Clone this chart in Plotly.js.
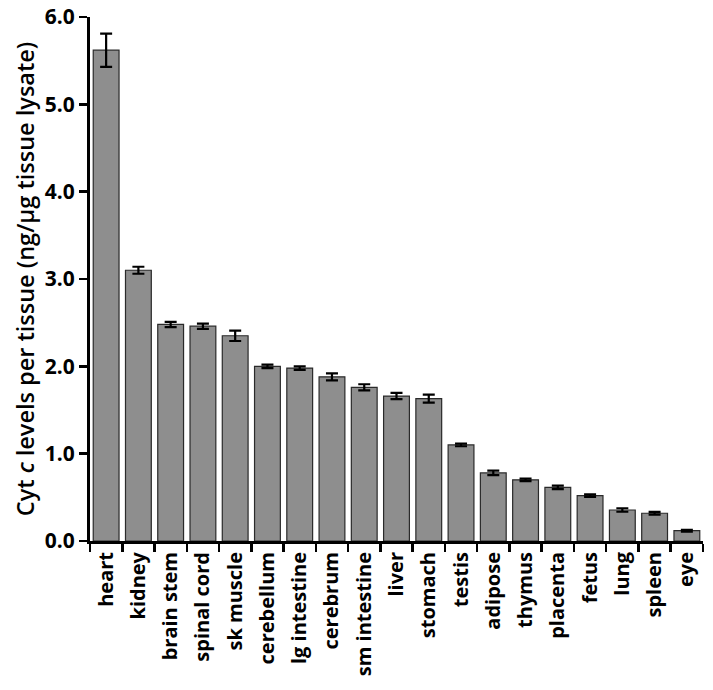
<!DOCTYPE html>
<html>
<head>
<meta charset="utf-8">
<script src="https://cdn.plot.ly/plotly-3.0.1.min.js"></script>
<style>html,body{margin:0;padding:0;background:#fff;}#chart{width:713px;height:690px;}</style>
</head>
<body>
<div id="chart"></div>
<script>
const tissues = ["heart","kidney","brain stem","spinal cord","sk muscle","cerebellum","lg intestine","cerebrum","sm intestine","liver","stomach","testis","adipose","thymus","placenta","fetus","lung","spleen","eye"];
const cytC = [5.62,3.10,2.48,2.46,2.35,2.00,1.98,1.88,1.76,1.66,1.63,1.10,0.78,0.70,0.615,0.52,0.355,0.318,0.118];
const sem = [0.19,0.04,0.03,0.03,0.06,0.02,0.02,0.04,0.035,0.035,0.045,0.015,0.025,0.015,0.02,0.015,0.02,0.015,0.01];
const yTicks = [0,1,2,3,4,5,6];

const font = "'Open Sans', 'Noto Sans', sans-serif";
const trace = {
  type: 'bar',
  x: tissues,
  y: cytC,
  marker: {color: '#8e8e8e', line: {color: '#2a2a2a', width: 1.2}},
  error_y: {type: 'data', array: sem, visible: true, color: '#000', thickness: 2.2, width: 6}
};
const layout = {
  width: 713, height: 690,
  margin: {l: 90, r: 10, t: 17, b: 149},
  paper_bgcolor: '#fff', plot_bgcolor: '#fff',
  bargap: 0.2,
  showlegend: false,
  xaxis: {
    type: 'category',
    tickangle: -90,
    ticks: 'outside', tickson: 'boundaries', ticklen: 8, tickwidth: 2.5, tickcolor: '#000',
    showline: true, linecolor: '#000', linewidth: 3,
    showgrid: false, zeroline: false,
    tickfont: {family: font, size: 20, color: '#000', weight: 'bold'}
  },
  yaxis: {
    range: [0, 6],
    tickvals: yTicks,
    tickformat: '.1f',
    ticks: 'outside', ticklen: 8, tickwidth: 2.5, tickcolor: '#000',
    showline: true, linecolor: '#000', linewidth: 3,
    showgrid: false, zeroline: false,
    tickfont: {family: font, size: 21, color: '#000', weight: 'bold'},
    title: {text: 'Cyt <i>c</i> levels per tissue (ng/µg tissue lysate)', font: {family: font, size: 23.5, color: '#000', weight: 600}, standoff: 4}
  }
};
Plotly.newPlot('chart', [trace], layout, {displayModeBar: false, staticPlot: true});
</script>
</body>
</html>
